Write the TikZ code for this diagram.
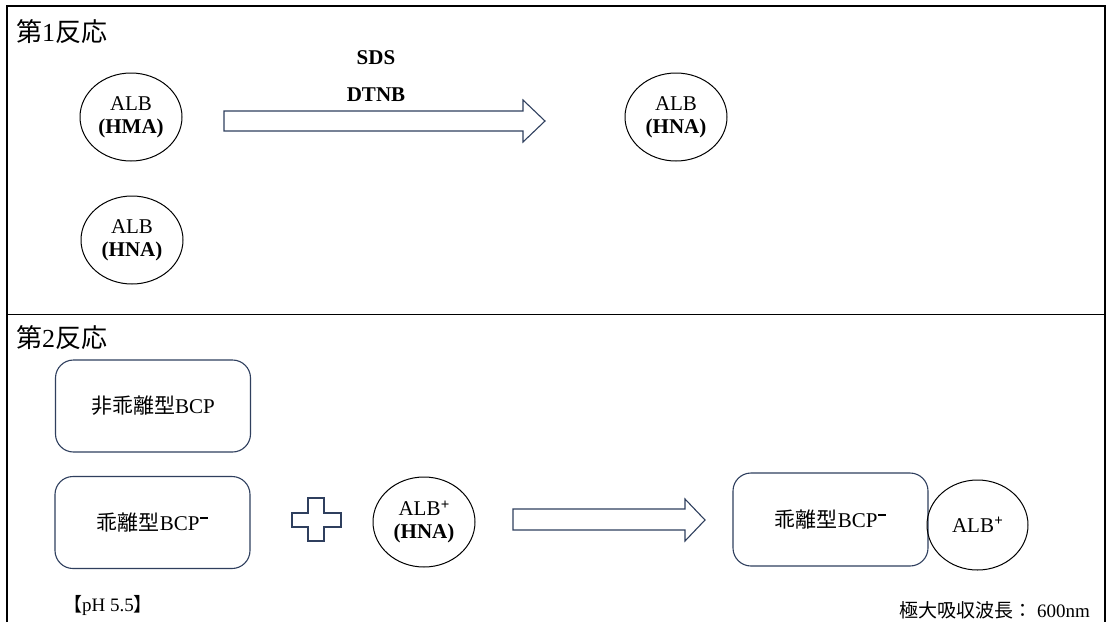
\documentclass[tikz,border=0pt]{standalone}
\usepackage{fontspec}
\setmainfont{Liberation Serif}
\newfontfamily\jp{Noto Sans CJK JP}
\usetikzlibrary{shapes.geometric}
\definecolor{navy}{RGB}{47,63,94}
\newcommand\negsup{\hspace{0.8pt}\raisebox{11pt}{\rule{8pt}{2.2pt}}}
\newcommand\possup{\hspace{0.3pt}\raisebox{6.5pt}{\fontsize{15}{15}\selectfont\bfseries +}}
\begin{document}
\begin{tikzpicture}[x=1pt,y=-1pt,
  frame/.style={line width=1.6pt,black},
  circ/.style={draw=black,line width=1pt,ellipse,minimum width=102pt,minimum height=88pt,inner sep=0pt,align=center,font=\fontsize{21}{23}\selectfont},
  rbox/.style={draw=navy,line width=1.1pt,rounded corners=18pt,minimum width=195pt,minimum height=92pt,inner sep=0pt,font=\fontsize{21}{23}\selectfont},
  blk/.style={draw=navy,line width=1.1pt,fill=white,line join=miter},
  lbl/.style={inner sep=0pt,font=\bfseries\fontsize{21}{23}\selectfont},
  ttl/.style={inner sep=0pt,anchor=west,font=\jp\fontsize{26}{28}\selectfont},
  note/.style={inner sep=0pt,font=\fontsize{19}{21}\selectfont},
]
\useasboundingbox (0,0) rectangle (1106,622);
\fill[white] (0,0) rectangle (1106,622);
% frame
\draw[frame] (7,622) -- (7,6) -- (1105,6) -- (1105,622);
\draw[frame] (7,314.5) -- (1105,314.5);
% panel 1
\node[ttl] (t1) at (16,32) {第\rmfamily 1\jp 反応};
\node[circ] (hma) at (131,117) {ALB\\\textbf{(HMA)}};
\node[circ] (hna1) at (132,240) {ALB\\\textbf{(HNA)}};
\node[circ] (hna2) at (676,117) {ALB\\\textbf{(HNA)}};
\node[lbl] (sds) at (376,58) {SDS};
\node[lbl] (dtnb) at (376,95) {DTNB};
\draw[blk] (224,111) -- (523,111) -- (523,100) -- (545,121) -- (523,142) -- (523,131) -- (224,131) -- cycle;
% panel 2
\node[ttl] (t2) at (16,338) {第\rmfamily 2\jp 反応};
\node[rbox] (nb) at (153,406) {\jp 非乖離型\rmfamily BCP};
\node[rbox] (b1) at (152.5,522.5) {\jp 乖離型\rmfamily BCP\negsup};
\draw[blk] (308,498) -- (324,498) -- (324,513) -- (341,513) -- (341,527) -- (324,527) -- (324,541) -- (308,541) -- (308,527) -- (292,527) -- (292,513) -- (308,513) -- cycle;
\node[circ,minimum height=90pt] (alb) at (424,522) {ALB\possup\\\textbf{(HNA)}};
\draw[blk] (513,509) -- (685,509) -- (685,499) -- (705,520) -- (685,541) -- (685,530) -- (513,530) -- cycle;
\node[rbox,minimum height=93pt] (b2) at (830.5,519.5) {\jp 乖離型\rmfamily BCP\negsup};
\node[circ,minimum width=101pt,minimum height=90pt] (alb2) at (977.5,525) {ALB\possup};
\node[note] (ph) at (108,605) {\jp【\rmfamily pH 5.5\jp】};
\node[note,anchor=east] (lam) at (1090,610) {\jp 極大吸収波長：\rmfamily\ 600nm};
\end{tikzpicture}
\end{document}
